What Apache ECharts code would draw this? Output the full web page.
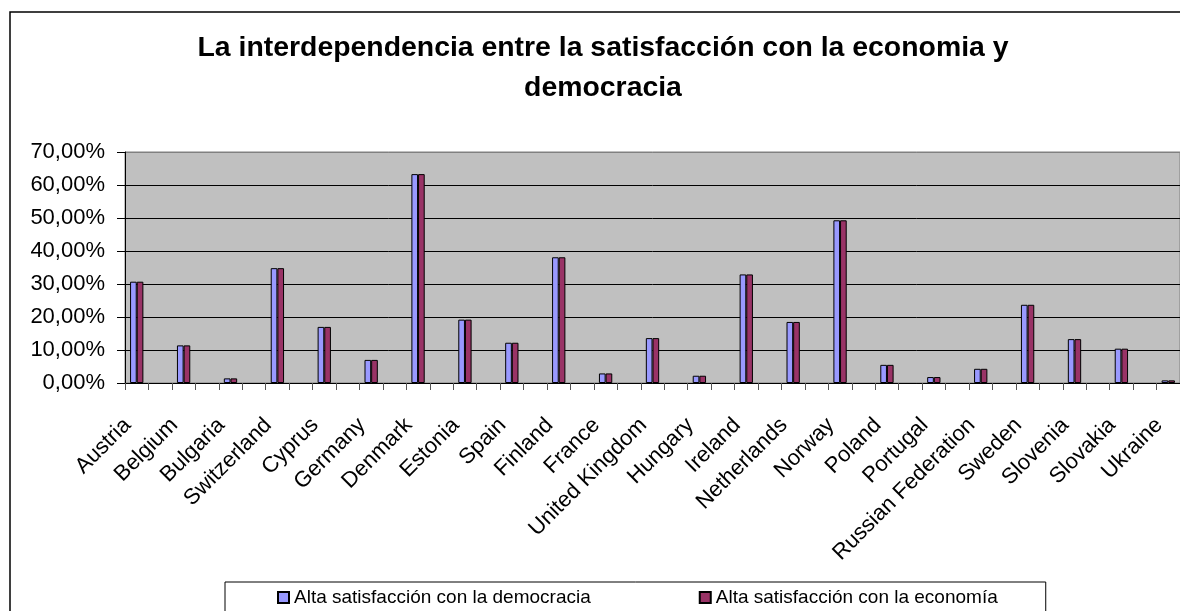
<!DOCTYPE html>
<html>
<head>
<meta charset="utf-8">
<script src="https://cdn.jsdelivr.net/npm/echarts@6/dist/echarts.min.js"></script>
<style>
  html, body { margin: 0; padding: 0; background: #fff; }
  #chart { width: 1180px; height: 611px; }
</style>
</head>
<body>
<div id="chart"></div>
<script>
// Countries shown along the category axis
const countries = [
  'Austria', 'Belgium', 'Bulgaria', 'Switzerland', 'Cyprus', 'Germany', 'Denmark',
  'Estonia', 'Spain', 'Finland', 'France', 'United Kingdom', 'Hungary', 'Ireland',
  'Netherlands', 'Norway', 'Poland', 'Portugal', 'Russian Federation', 'Sweden',
  'Slovenia', 'Slovakia', 'Ukraine'
];

// Share of respondents (%) with high satisfaction
const democracia = [30.7, 11.4, 1.4, 34.8, 17.0, 7.0, 63.3, 19.2, 12.2, 38.1, 2.9, 13.6,
  2.2, 32.9, 18.5, 49.3, 5.5, 1.8, 4.3, 23.7, 13.3, 10.4, 0.8];
const economia = [30.7, 11.4, 1.4, 34.8, 17.0, 7.0, 63.3, 19.2, 12.2, 38.1, 2.9, 13.6,
  2.2, 32.9, 18.5, 49.3, 5.5, 1.8, 4.3, 23.7, 13.3, 10.4, 0.8];

const seriesNames = ['Alta satisfacción con la democracia', 'Alta satisfacción con la economía'];
const yTicks = [0, 10, 20, 30, 40, 50, 60, 70];

// The worksheet had an empty column between countries: interleave blank slots
const categories = [];
const demData = [];
const ecoData = [];
countries.forEach((c, i) => {
  categories.push(c);
  demData.push(democracia[i]);
  ecoData.push(economia[i]);
  if (i < countries.length - 1) {
    categories.push('');
    demData.push('-');
    ecoData.push('-');
  }
});

const FONT = '"Liberation Sans", Arial, sans-serif';
const chart = echarts.init(document.getElementById('chart'), null, { renderer: 'canvas' });

chart.setOption({
  backgroundColor: '#ffffff',
  animation: false,
  title: {
    text: 'La interdependencia entre la satisfacción con la economia y\ndemocracia',
    left: 598,
    textAlign: 'center',
    top: 23,
    textStyle: {
      fontFamily: FONT,
      fontWeight: 'bold',
      fontSize: 28.4,
      lineHeight: 40,
      color: '#000'
    }
  },
  graphic: [{
    type: 'rect',
    shape: { x: 10, y: 12, width: 1200, height: 640 },
    style: { fill: 'none', stroke: '#000', lineWidth: 1.5 },
    silent: true,
    z: -1
  }],
  legend: {
    data: seriesNames,
    left: 225,
    top: 582,
    orient: 'horizontal',
    icon: 'rect',
    itemWidth: 11,
    itemHeight: 11,
    itemGap: 108,
    padding: [6, 48, 30, 52],
    borderColor: '#000',
    borderWidth: 1,
    backgroundColor: '#fff',
    textStyle: { fontFamily: FONT, fontSize: 19, color: '#000', padding: [0, 0, 0, 0] }
  },
  grid: {
    left: 125,
    top: 152,
    right: 0,
    bottom: 228,
    show: true,
    backgroundColor: '#C0C0C0',
    borderColor: '#808080',
    borderWidth: 1,
    containLabel: false
  },
  xAxis: {
    type: 'category',
    data: categories,
    boundaryGap: true,
    axisLine: { show: true, lineStyle: { color: '#000', width: 1 } },
    axisTick: { show: true, interval: 0, length: 7, lineStyle: { color: '#555' } },
    axisLabel: {
      interval: 0,
      rotate: 45,
      margin: 14,
      verticalAlign: 'top',
      padding: [0, 24, 0, 0],
      fontFamily: FONT,
      fontSize: 22,
      color: '#000'
    },
    splitLine: { show: false }
  },
  yAxis: {
    type: 'value',
    min: yTicks[0],
    max: yTicks[yTicks.length - 1],
    interval: 10,
    axisLine: { show: true, lineStyle: { color: '#000', width: 1 } },
    axisTick: { show: true, length: 8, lineStyle: { color: '#000' } },
    axisLabel: {
      margin: 20,
      fontFamily: FONT,
      fontSize: 22,
      color: '#000',
      formatter: v => v.toFixed(2).replace('.', ',') + '%'
    },
    splitLine: {
      show: true,
      lineStyle: {
        color: ['#000', '#000', '#000', '#000', '#000', '#000', '#000', '#808080'],
        width: 1
      }
    }
  },
  series: [
    {
      name: seriesNames[0],
      type: 'bar',
      data: demData,
      barWidth: '28.4%',
      barGap: '0%',
      itemStyle: { color: '#9999FF', borderColor: '#000', borderWidth: 1 }
    },
    {
      name: seriesNames[1],
      type: 'bar',
      data: ecoData,
      barWidth: '28.4%',
      barGap: '0%',
      itemStyle: { color: '#993366', borderColor: '#000', borderWidth: 1 }
    }
  ]
});
</script>
</body>
</html>
